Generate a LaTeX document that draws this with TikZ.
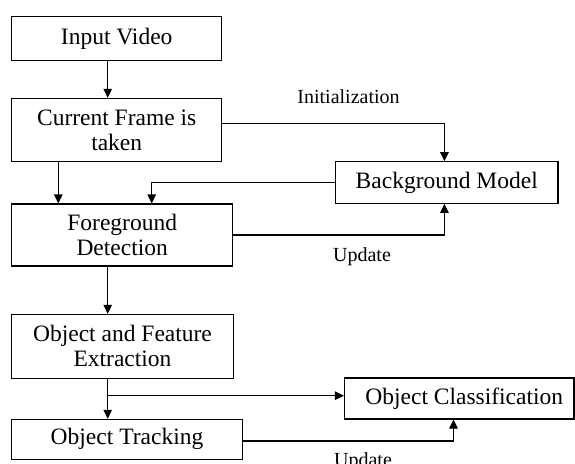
\documentclass[tikz,border=0pt]{standalone}
\usepackage{fontspec}
\setmainfont{Liberation Serif}
\usetikzlibrary{arrows.meta}
\begin{document}
\begin{tikzpicture}[x=1pt,y=-1pt,
  box/.style={draw=black,line width=1.1pt,rectangle,inner sep=0pt,align=center,
    font=\fontsize{23.5}{25}\selectfont},
  arr/.style={draw=black,line width=1.1pt,-{Triangle[length=9pt,width=8.5pt]}},
  lbl/.style={font=\fontsize{20}{22}\selectfont,inner sep=0pt,anchor=base}]
\useasboundingbox (0,0) rectangle (575,463);
\fill[white] (0,0) rectangle (575,463);
% boxes
\node[box,minimum width=210pt,minimum height=44pt] (input) at (116.7,38.7) {Input Video};
\node[box,minimum width=210pt,minimum height=63.4pt] (current) at (116.7,130) {Current Frame is\\taken};
\node[box,minimum width=222.5pt,minimum height=41.6pt] (bg) at (446.75,182.5) {Background Model};
\node[box,minimum width=221pt,minimum height=62pt] (fg) at (122.2,235) {Foreground\\Detection};
\node[box,minimum width=221.6pt,minimum height=64pt] (ofe) at (122.5,346.3) {Object and Feature\\Extraction};
\node[box,minimum width=230.6pt,minimum height=40pt] (track) at (127,439.3) {Object Tracking};
\node[box,minimum width=229.5pt,minimum height=41pt] (cls) at (459.25,398.5) {\hspace*{10pt}Object Classification};
% helper coordinates
\coordinate (xa) at (107.7,0);
\coordinate (xb) at (58.3,0);
\coordinate (xc) at (151.7,0);
\coordinate (xv) at (444.4,0);
\coordinate (xu) at (453.5,0);
\coordinate (yi) at (0,123.3);
\coordinate (yt) at (0,441);
\coordinate (br) at (107.7,395.7);
% connectors
\draw[arr] (input.south -| xa) -- (current.north -| xa);
\draw[arr] (current.south -| xb) -- (fg.north -| xb);
\draw[arr] (current.east |- yi) -| (bg.north -| xv);
\draw[arr] (bg.west) -| (fg.north -| xc);
\draw[arr] (fg.east) -| (bg.south -| xv);
\draw[arr] (fg.south -| xa) -- (ofe.north -| xa);
\draw[arr] (ofe.south -| xa) -- (track.north -| xa);
\draw[arr] (br) -- (cls.west |- br);
\draw[arr] (track.east |- yt) -| (cls.south -| xu);
% labels
\node[lbl] (linit) at (348.5,103.3) {Initialization};
\node[lbl] (lupd1) at (362,261.5) {Update};
\node[lbl] (lupd2) at (363,466.5) {Update};
\end{tikzpicture}
\end{document}
